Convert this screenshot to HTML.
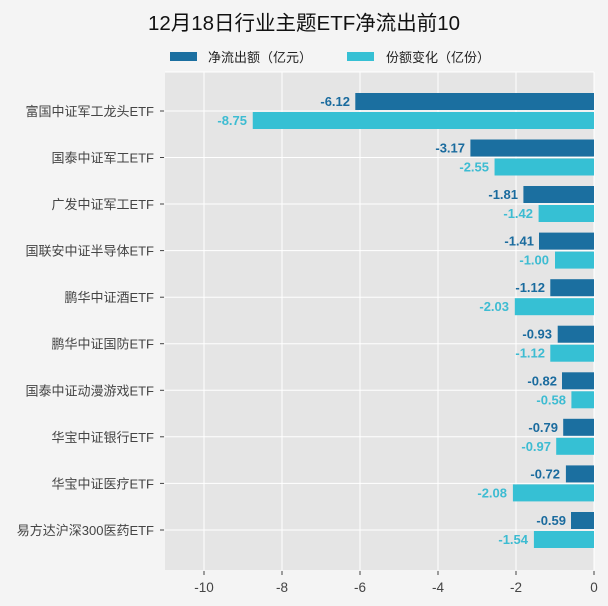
<!DOCTYPE html>
<html><head><meta charset="utf-8"><style>
html,body{margin:0;padding:0;background:#f4f4f4;}
svg{display:block;font-family:"Liberation Sans","Noto Sans CJK SC",sans-serif;}
</style></head><body>
<svg width="608" height="606" viewBox="0 0 608 606" xmlns="http://www.w3.org/2000/svg">
<rect width="608" height="606" fill="#f4f4f4"/>
<text x="304" y="30" font-size="20.5" text-anchor="middle" fill="#111">12月18日行业主题ETF净流出前10</text>
<rect x="170" y="52" width="27" height="9" fill="#1b6fa0"/>
<text x="208" y="62" font-size="13" fill="#222">净流出额（亿元）</text>
<rect x="347" y="52" width="27" height="9" fill="#36c0d4"/>
<text x="386" y="62" font-size="13" fill="#222">份额变化（亿份）</text>
<rect x="165" y="72" width="429" height="498" fill="#e5e5e5"/>
<g stroke="#fff" stroke-width="1">
<line x1="204" y1="72" x2="204" y2="570"/><line x1="282" y1="72" x2="282" y2="570"/>
<line x1="360" y1="72" x2="360" y2="570"/><line x1="438" y1="72" x2="438" y2="570"/>
<line x1="516" y1="72" x2="516" y2="570"/><line x1="594" y1="72" x2="594" y2="570"/>
<line x1="165" y1="72" x2="594" y2="72"/>
<line x1="165" y1="111" x2="594" y2="111"/><line x1="165" y1="157.5" x2="594" y2="157.5"/>
<line x1="165" y1="204" x2="594" y2="204"/><line x1="165" y1="250.6" x2="594" y2="250.6"/>
<line x1="165" y1="297.2" x2="594" y2="297.2"/><line x1="165" y1="343.7" x2="594" y2="343.7"/>
<line x1="165" y1="390.3" x2="594" y2="390.3"/><line x1="165" y1="436.8" x2="594" y2="436.8"/>
<line x1="165" y1="483.4" x2="594" y2="483.4"/><line x1="165" y1="530" x2="594" y2="530"/>
</g>
<g stroke="#444" stroke-width="1">
<line x1="160" y1="111" x2="164" y2="111"/><line x1="160" y1="157.5" x2="164" y2="157.5"/>
<line x1="160" y1="204" x2="164" y2="204"/><line x1="160" y1="250.6" x2="164" y2="250.6"/>
<line x1="160" y1="297.2" x2="164" y2="297.2"/><line x1="160" y1="343.7" x2="164" y2="343.7"/>
<line x1="160" y1="390.3" x2="164" y2="390.3"/><line x1="160" y1="436.8" x2="164" y2="436.8"/>
<line x1="160" y1="483.4" x2="164" y2="483.4"/><line x1="160" y1="530" x2="164" y2="530"/>
<line x1="204" y1="571" x2="204" y2="575"/><line x1="282" y1="571" x2="282" y2="575"/>
<line x1="360" y1="571" x2="360" y2="575"/><line x1="438" y1="571" x2="438" y2="575"/>
<line x1="516" y1="571" x2="516" y2="575"/><line x1="594" y1="571" x2="594" y2="575"/>
</g>
<g font-size="13.5" fill="#444" text-anchor="middle">
<text x="204" y="592">-10</text><text x="282" y="592">-8</text><text x="360" y="592">-6</text>
<text x="438" y="592">-4</text><text x="516" y="592">-2</text><text x="594" y="592">0</text>
</g>
<g font-size="13" fill="#444" text-anchor="end">
<text x="154" y="116">富国中证军工龙头ETF</text>
<text x="154" y="162.5">国泰中证军工ETF</text>
<text x="154" y="209">广发中证军工ETF</text>
<text x="154" y="255.6">国联安中证半导体ETF</text>
<text x="154" y="302.2">鹏华中证酒ETF</text>
<text x="154" y="348.7">鹏华中证国防ETF</text>
<text x="154" y="395.3">国泰中证动漫游戏ETF</text>
<text x="154" y="441.8">华宝中证银行ETF</text>
<text x="154" y="488.4">华宝中证医疗ETF</text>
<text x="154" y="535">易方达沪深300医药ETF</text>
</g>
<g fill="#1b6fa0">
<rect x="355.3" y="93" width="238.7" height="17"/>
<rect x="470.4" y="139.5" width="123.6" height="17"/>
<rect x="523.4" y="186" width="70.6" height="17"/>
<rect x="539" y="232.6" width="55" height="17"/>
<rect x="550.3" y="279.2" width="43.7" height="17"/>
<rect x="557.7" y="325.7" width="36.3" height="17"/>
<rect x="562" y="372.3" width="32" height="17"/>
<rect x="563.2" y="418.8" width="30.8" height="17"/>
<rect x="565.9" y="465.4" width="28.1" height="17"/>
<rect x="571" y="512" width="23" height="17"/>
</g>
<g fill="#36c0d4">
<rect x="252.75" y="112" width="341.25" height="17"/>
<rect x="494.55" y="158.5" width="99.45" height="17"/>
<rect x="538.6" y="205" width="55.4" height="17"/>
<rect x="555" y="251.6" width="39" height="17"/>
<rect x="514.8" y="298.2" width="79.2" height="17"/>
<rect x="550.3" y="344.7" width="43.7" height="17"/>
<rect x="571.4" y="391.3" width="22.6" height="17"/>
<rect x="556.2" y="437.8" width="37.8" height="17"/>
<rect x="512.9" y="484.4" width="81.1" height="17"/>
<rect x="533.9" y="531" width="60.1" height="17"/>
</g>
<g font-size="13" font-weight="bold" fill="#1a6b9e" text-anchor="end">
<text x="350" y="106">-6.12</text>
<text x="465" y="152.5">-3.17</text>
<text x="518" y="199">-1.81</text>
<text x="534" y="245.6">-1.41</text>
<text x="545" y="292.2">-1.12</text>
<text x="552" y="338.7">-0.93</text>
<text x="557" y="385.3">-0.82</text>
<text x="558" y="431.8">-0.79</text>
<text x="560" y="478.4">-0.72</text>
<text x="566" y="525">-0.59</text>
</g>
<g font-size="13" font-weight="bold" fill="#3dbcd2" text-anchor="end">
<text x="247" y="125">-8.75</text>
<text x="489" y="171.5">-2.55</text>
<text x="533" y="218">-1.42</text>
<text x="549" y="264.6">-1.00</text>
<text x="509" y="311.2">-2.03</text>
<text x="545" y="357.7">-1.12</text>
<text x="566" y="404.3">-0.58</text>
<text x="551" y="450.8">-0.97</text>
<text x="507" y="497.4">-2.08</text>
<text x="528" y="544">-1.54</text>
</g>
</svg>
</body></html>
